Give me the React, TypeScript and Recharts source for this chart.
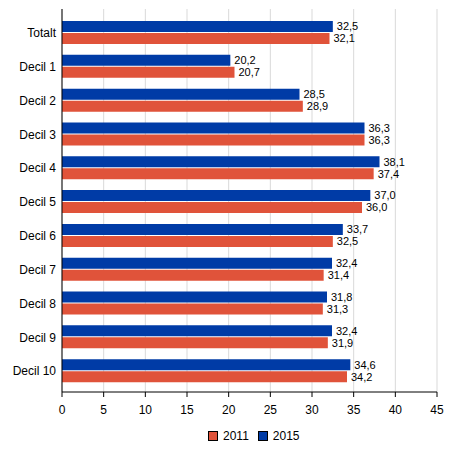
import { BarChart, Bar, XAxis, YAxis, CartesianGrid, LabelList } from 'recharts';

const categories = ['Totalt', 'Decil 1', 'Decil 2', 'Decil 3', 'Decil 4', 'Decil 5', 'Decil 6', 'Decil 7', 'Decil 8', 'Decil 9', 'Decil 10'];
const values2015 = [32.5, 20.2, 28.5, 36.3, 38.1, 37.0, 33.7, 32.4, 31.8, 32.4, 34.6];
const values2011 = [32.1, 20.7, 28.9, 36.3, 37.4, 36.0, 32.5, 31.4, 31.3, 31.9, 34.2];
const xTicks = [0, 5, 10, 15, 20, 25, 30, 35, 40, 45];

const RED = '#e0533a';
const BLUE = '#003ba6';
const FONT = '"Liberation Sans", Arial, sans-serif';

const rows = categories.map((name, i) => ({ name, y2015: values2015[i], y2011: values2011[i] }));
const fmt = (v: unknown) => Number(v).toFixed(1).replace('.', ',');

function LegendItem({ color, label }: { color: string; label: string }) {
  return (
    <span style={{ display: 'inline-flex', alignItems: 'center', marginRight: 9 }}>
      <span style={{ width: 8, height: 8, background: color, border: '1px solid #000', marginRight: 5 }} />
      <span>{label}</span>
    </span>
  );
}

export default function App() {
  return (
    <div style={{ position: 'absolute', left: 0, top: 0, width: 454, height: 454, fontFamily: FONT, background: '#fff' }}>
      <BarChart
        width={454}
        height={454}
        data={rows}
        layout="vertical"
        margin={{ top: 9, right: 17, left: 0, bottom: 32 }}
        barSize={11}
        barGap={1}
        style={{ fontFamily: FONT }}
      >
        <CartesianGrid horizontal={false} stroke="#d9d9d9" />
        <XAxis
          type="number"
          domain={[0, 45]}
          ticks={xTicks}
          interval={0}
          height={30}
          axisLine={{ stroke: '#000' }}
          tickLine={{ stroke: '#000' }}
          tickSize={5}
          tickMargin={8}
          tick={{ fill: '#000', fontSize: 12 }}
        />
        <XAxis xAxisId="top" orientation="top" type="number" domain={[0, 45]} height={0} tick={false} tickLine={false} axisLine={{ stroke: '#000' }} />
        <YAxis
          type="category"
          dataKey="name"
          width={62}
          padding={{ top: 7, bottom: 4 }}
          axisLine={{ stroke: '#000' }}
          tickLine={false}
          tickSize={4}
          tickMargin={2}
          tick={{ fill: '#000', fontSize: 12 }}
        />
        <YAxis yAxisId="right" orientation="right" type="category" dataKey="name" width={0} tick={false} tickLine={false} axisLine={{ stroke: '#000' }} />
        <Bar dataKey="y2015" name="2015" fill={BLUE} isAnimationActive={false}>
          <LabelList dataKey="y2015" position="right" offset={4} fill="#000" fontSize={11} formatter={fmt} />
        </Bar>
        <Bar dataKey="y2011" name="2011" fill={RED} isAnimationActive={false}>
          <LabelList dataKey="y2011" position="right" offset={4} fill="#000" fontSize={11} formatter={fmt} />
        </Bar>
      </BarChart>
      <div style={{ position: 'absolute', top: 429, left: 208, fontSize: 12, color: '#000', display: 'flex' }}>
        <LegendItem color={RED} label="2011" />
        <LegendItem color={BLUE} label="2015" />
      </div>
    </div>
  );
}
